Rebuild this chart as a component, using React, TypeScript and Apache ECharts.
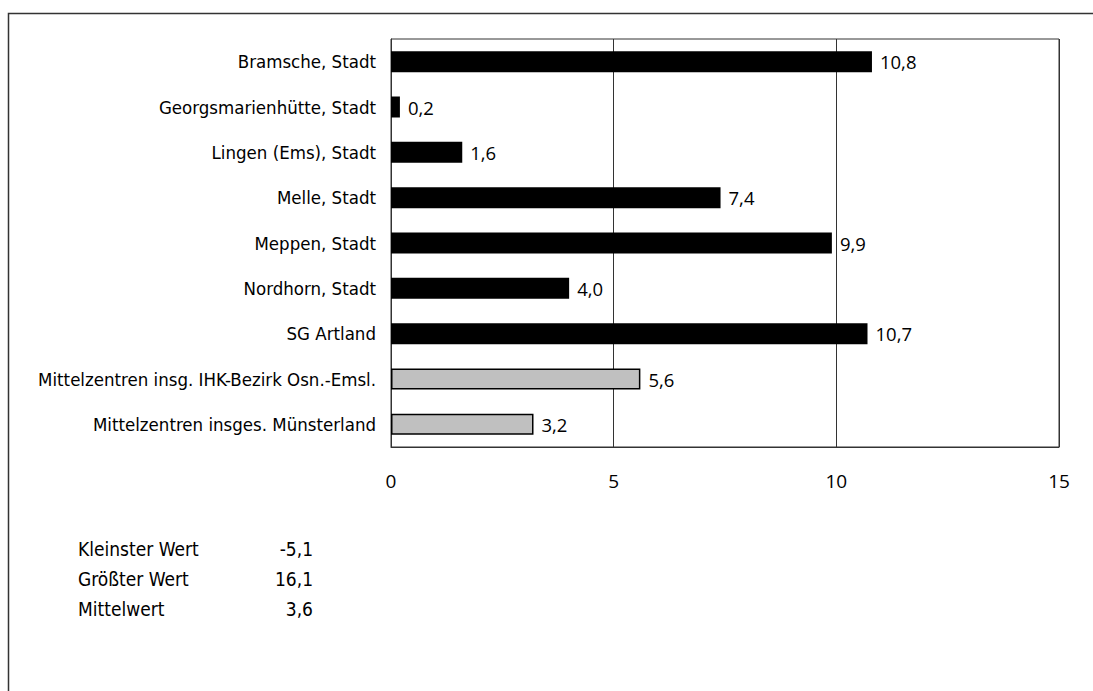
import React, { useEffect, useRef } from "react";
import * as echarts from "echarts";

const categories = [
  "Bramsche, Stadt",
  "Georgsmarienhütte, Stadt",
  "Lingen (Ems), Stadt",
  "Melle, Stadt",
  "Meppen, Stadt",
  "Nordhorn, Stadt",
  "SG Artland",
  "Mittelzentren insg. IHK-Bezirk Osn.-Emsl.",
  "Mittelzentren insges. Münsterland",
];
const values = [10.8, 0.2, 1.6, 7.4, 9.9, 4.0, 10.7, 5.6, 3.2];
const isSummary = [false, false, false, false, false, false, false, true, true];

const statLabels = ["Kleinster Wert", "Größter Wert", "Mittelwert"];
const statValues = ["-5,1", "16,1", "3,6"];

const FONT = "'DejaVu Sans Condensed', 'DejaVu Sans', sans-serif";
const NUMFONT = "'Open Sans', 'Noto Sans', sans-serif";

export default function App() {
  const ref = useRef<HTMLDivElement>(null);
  useEffect(() => {
    if (!ref.current) return;
    const chart = echarts.init(ref.current, null, { renderer: "svg" });
    const data = values.map((v, i) => ({
      value: v,
      itemStyle: isSummary[i]
        ? { color: "#c0c0c0", borderColor: "#000", borderWidth: 1.5 }
        : { color: "#000" },
    }));
    const graphics: any[] = [
      {
        type: "rect",
        shape: { x: 8.5, y: 13.5, width: 1200, height: 800 },
        style: { fill: "none", stroke: "#333", lineWidth: 1.5 },
        silent: true,
      },
    ];
    statLabels.forEach((s, i) => {
      graphics.push({
        type: "text",
        x: 78,
        y: 549 + i * 30,
        style: {
          text: s,
          font: `19px ${FONT}`,
          fill: "#000",
          textAlign: "left",
          textVerticalAlign: "middle",
        },
      });
      graphics.push({
        type: "text",
        x: 313,
        y: 549 + i * 30,
        style: {
          text: statValues[i],
          font: `19px ${FONT}`,
          fill: "#000",
          textAlign: "right",
          textVerticalAlign: "middle",
        },
      });
    });
    chart.setOption({
      animation: false,
      backgroundColor: "#fff",
      grid: {
        left: 391,
        top: 39,
        width: 668,
        height: 408,
        show: true,
        borderColor: "#333",
        borderWidth: 1,
        backgroundColor: "transparent",
      },
      xAxis: {
        type: "value",
        min: 0,
        max: 15,
        interval: 5,
        axisLine: { show: true, lineStyle: { color: "#333", width: 1 } },
        axisTick: { show: false },
        splitLine: { show: true, lineStyle: { color: "#333", width: 1 } },
        axisLabel: {
          margin: 24,
          fontSize: 19,
          color: "#000",
          fontFamily: NUMFONT,
        },
      },
      yAxis: {
        type: "category",
        data: categories,
        inverse: true,
        axisLine: { show: true, lineStyle: { color: "#333" } },
        axisTick: { show: false },
        axisLabel: {
          margin: 15,
          fontSize: 18.5,
          color: "#000",
          fontFamily: FONT,
        },
      },
      series: [
        {
          type: "bar",
          data,
          barWidth: 21,
          label: {
            show: true,
            position: "right",
            distance: 8,
            fontSize: 18.5,
            color: "#000",
            fontFamily: NUMFONT,
            formatter: (p: any) => p.value.toFixed(1).replace(".", ","),
          },
        },
      ],
      graphic: graphics,
    });
    return () => chart.dispose();
  }, []);
  return (
    <div
      ref={ref}
      style={{ position: "absolute", left: 0, top: 0, width: 1093, height: 691 }}
    />
  );
}
